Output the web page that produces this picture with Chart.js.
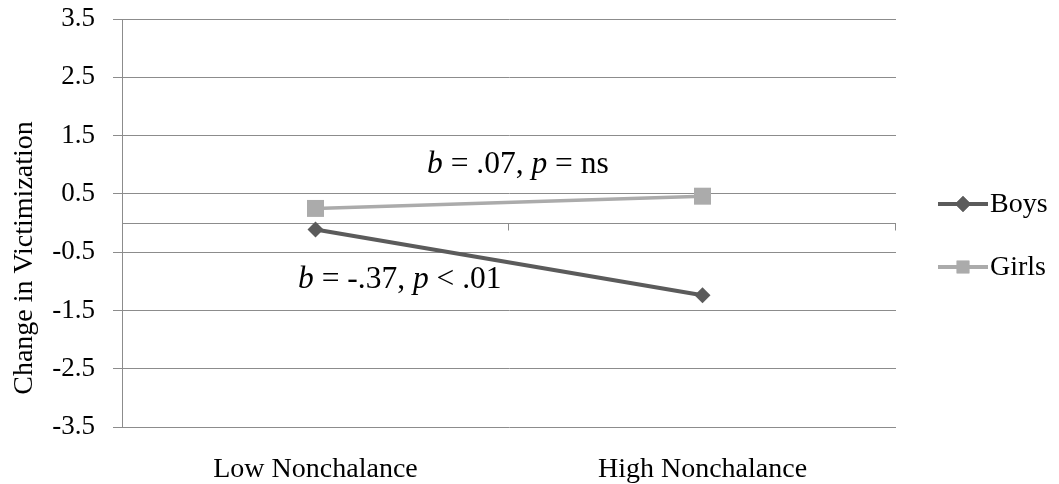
<!DOCTYPE html>
<html>
<head>
<meta charset="utf-8">
<script src="https://cdn.jsdelivr.net/npm/chart.js@4.4.0/dist/chart.umd.min.js"></script>
<style>
  html, body { margin: 0; padding: 0; background: #fff; }
  #wrap { width: 1059px; height: 484px; }
</style>
</head>
<body>
<div id="wrap"><canvas id="chart" width="1059" height="484"></canvas></div>
<script>
// categories and simple-slope values (change in victimization)
var categories = ['Low Nonchalance', 'High Nonchalance'];
var boys = [-0.11, -1.24];
var girls = [0.25, 0.46];
var yTicks = [-3.5, -2.5, -1.5, -0.5, 0.5, 1.5, 2.5, 3.5];
var seriesNames = ['Boys', 'Girls'];
var yTitle = 'Change in Victimization';
// slope notes, [text, italic]
var boysNote = [['b', true], [' = -.37, ', false], ['p', true], [' < .01', false]];
var girlsNote = [['b', true], [' = .07, ', false], ['p', true], [' = ns', false]];

var SERIF = "'Liberation Serif', 'Times New Roman', serif";
var BOYS_COLOR = '#5b5b5b';
var GIRLS_COLOR = '#ababab';
var GRID = '#8c8c8c';

function drawRich(ctx, parts, x, y, size) {
    ctx.textAlign = 'left';
    ctx.textBaseline = 'alphabetic';
    ctx.fillStyle = '#000';
    parts.forEach(function(p) {
        ctx.font = (p[1] ? 'italic ' : '') + size + 'px ' + SERIF;
        ctx.fillText(p[0], x, y);
        x += ctx.measureText(p[0]).width;
    });
}

var decor = {
    id: 'decor',
    beforeDatasetsDraw: function(chart) {
        var ctx = chart.ctx, area = chart.chartArea;
        var xs = chart.scales.x, ys = chart.scales.y;
        // horizontal axis crosses at zero, ticks between categories
        var y0 = Math.round(ys.getPixelForValue(0)) + 0.5;
        var half = (xs.getPixelForValue(1) - xs.getPixelForValue(0)) / 2;
        ctx.save();
        ctx.strokeStyle = GRID;
        ctx.lineWidth = 1;
        ctx.beginPath();
        ctx.moveTo(area.left, y0);
        ctx.lineTo(area.right, y0);
        for (var i = 0; i < categories.length; i++) {
            var bx = Math.round(xs.getPixelForValue(i) + half) - 0.5;
            ctx.moveTo(bx, y0);
            ctx.lineTo(bx, y0 + 7);
        }
        ctx.stroke();
        ctx.restore();
    },
    afterDraw: function(chart) {
        var ctx = chart.ctx, area = chart.chartArea;
        ctx.save();

        // y axis title
        ctx.translate(25, 258);
        ctx.rotate(-Math.PI / 2);
        ctx.font = '28px ' + SERIF;
        ctx.fillStyle = '#000';
        ctx.textAlign = 'center';
        ctx.textBaseline = 'middle';
        ctx.fillText(yTitle, 0, 0);
        ctx.setTransform(1, 0, 0, 1, 0, 0);

        // slope notes
        drawRich(ctx, girlsNote, 427, 173, 31.5);
        drawRich(ctx, boysNote, 298, 288, 31.5);

        // legend: line with marker, then name
        var lx = area.right + 42;
        var rows = [204, 267];
        chart.data.datasets.forEach(function(ds, i) {
            var ly = rows[i];
            ctx.strokeStyle = ds.borderColor;
            ctx.lineWidth = 4;
            ctx.beginPath();
            ctx.moveTo(lx, ly);
            ctx.lineTo(lx + 50, ly);
            ctx.stroke();
            ctx.fillStyle = ds.borderColor;
            Chart.helpers.drawPoint(ctx, {
                pointStyle: ds.pointStyle,
                radius: i === 0 ? 8 : 9,
                borderWidth: 0,
                rotation: 0
            }, lx + 25, ly);
            ctx.fill();
            ctx.font = '28px ' + SERIF;
            ctx.fillStyle = '#000';
            ctx.textAlign = 'left';
            ctx.textBaseline = 'middle';
            ctx.fillText(ds.label, lx + 52, ly + 1);
        });
        ctx.restore();
    }
};

var chart = new Chart(document.getElementById('chart'), {
    type: 'line',
    data: {
        labels: categories,
        datasets: [{
            label: seriesNames[0],
            data: boys,
            borderColor: BOYS_COLOR,
            backgroundColor: BOYS_COLOR,
            borderWidth: 4,
            pointStyle: 'rectRot',
            pointRadius: 8,
            pointBorderWidth: 0,
            tension: 0
        }, {
            label: seriesNames[1],
            data: girls,
            borderColor: GIRLS_COLOR,
            backgroundColor: GIRLS_COLOR,
            borderWidth: 3.5,
            pointStyle: 'rect',
            pointRadius: 12,
            pointBorderWidth: 0,
            tension: 0
        }]
    },
    options: {
        responsive: false,
        animation: false,
        devicePixelRatio: 1,
        layout: { padding: { top: 0, right: 163, bottom: 0, left: 0 } },
        plugins: {
            legend: { display: false },
            tooltip: { enabled: false }
        },
        scales: {
            x: {
                offset: true,
                grid: { display: false, drawTicks: false },
                border: { display: false },
                ticks: {
                    color: '#000',
                    padding: 26,
                    font: { family: SERIF, size: 28 }
                },
                afterFit: function(s) { s.height = 57; }
            },
            y: {
                min: -3.5,
                max: 3.5,
                afterBuildTicks: function(s) {
                    s.ticks = yTicks.map(function(v) { return { value: v }; });
                },
                grid: { color: GRID, lineWidth: 1, tickLength: 9, drawTicks: true },
                border: { display: true, color: GRID, width: 1 },
                ticks: {
                    color: '#000',
                    padding: 18,
                    font: { family: SERIF, size: 27 },
                    callback: function(v) { return v.toFixed(1); }
                },
                afterFit: function(s) {
                    s.width = 122;
                    s.paddingTop = 19;
                    s.paddingBottom = 0;
                }
            }
        }
    },
    plugins: [decor]
});
</script>
</body>
</html>
